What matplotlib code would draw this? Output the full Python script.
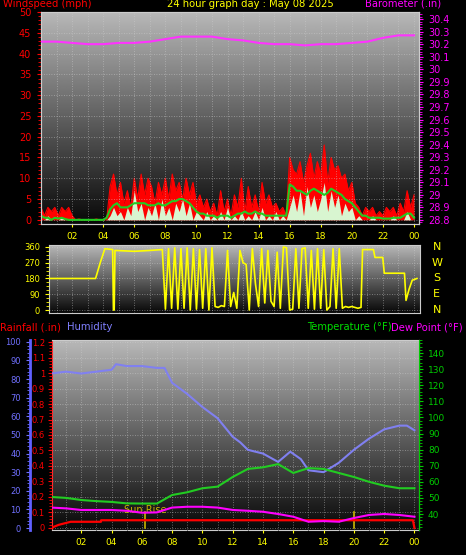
import numpy as np
import matplotlib
matplotlib.use("Agg")
import matplotlib.pyplot as plt
from matplotlib.ticker import MultipleLocator

# ---------------- data ----------------
hours_lbl = ["02","04","06","08","10","12","14","16","18","20","22","00"]
hours_pos = [2,4,6,8,10,12,14,16,18,20,22,24]

# wind (quarter-hour samples, 0..24)
wind_gust = [3,1,3,2,3,1,3,2,3,1,0,0.2,0,0,0,0,0.2,0,0,0,
             8,11,6,9,4,7,3,10,5,11,6,10,8,4,9,6,10,5,11,7,9,5,10,6,9,4,6,3,
             5,2,4,1,7,2,5,1,6,3,10,2,8,3,6,2,9,4,6,3,4,2,3,1,
             15,12,11,14,9,13,16,10,14,11,18,9,15,12,13,10,11,7,9,4,
             3,1,3,2,3,1,2,1,3,2,3,1,4,2,7,3,6]
wind_avg  = [1,0.5,0.5,0,0.5,0.3,0.5,0.2,0,0,0,0,0,0,0,0,0,0,0,0.5,
             2.5,3.5,4,3,3,3,3.5,4,4,4,4,3.5,3.5,3.5,4,3.5,3.5,4,4.5,4.5,5,5,4.5,4,3,2,1.5,1.5,
             1,1,1,0.5,1,1,1,0.5,1,1.5,1.5,2,1.5,1.5,2,1.5,1.5,1,1,1,1,1,1,1,
             8.5,8,7,7,6.5,6,7,7.5,7,6.5,6,6.5,7.5,7,6.5,6,5,4.5,4,3,
             2,1,1,0.5,0.5,0.5,0.5,0.3,0.3,0.3,0.5,0.5,0.5,1,1.5,1.5,0.5]
wind_spd  = [0,0,1,0,0,0,0.5,0,0,0,0,0,0,0,0,0,0,0,0,0,
             1,3,1,2,0,3,1,7,2,4,0,3,1,4,0,5,1,3,0,4,2,5,1,4,0,2,1,0,
             2,0,1,0,2,0,3,0,1,0,2,0,1,0,2,0,3,0,1,0,2,0,1,0,
             3,6,2,7,1,8,3,6,2,5,9,2,7,3,6,1,4,2,3,0,
             1,0,0,0,1,0,0,0,0,0,1,0,0,0,2,0,0]
baro_t = [0,1,2,3,4,5,6,7,8,9,10,11,12,13,14,15,16,17,18,19,20,21,22,23,24]
baro_v = [30.22,30.22,30.21,30.20,30.20,30.21,30.21,30.22,30.24,30.26,30.26,30.26,30.24,30.23,30.21,30.20,30.20,30.19,30.20,30.20,30.21,30.22,30.25,30.27,30.27]

# wind direction
dir_t = [0,3.5,3.8,4.1,4.6,4.65,4.7,4.75,6,7,7.8]
dir_v = [180,180,270,350,345,0,0,340,335,340,345]
dir_v2 = [5,350,10,355,5,350,10,355,0,350,5,345,10,350,0,355,20,15,25,20,340,20,100,10,340,270,260,0,350,150,20,350,40,340,50,20,330,10,360,355,0,5,350,10,350,355,10,340,5,350,10,345,0,20,350,10,350,10,20,15,20,15,10]
dir_t2 = [8.0 + 0.2 * i for i in range(len(dir_v2))]
dir_t3 = [20.6,20.7,21.4,21.5,22.0,22.1,23.4,23.5,23.7,23.9,24.2]
dir_v3 = [15,345,345,300,300,210,210,55,120,170,180]

# bottom panel
hum_t = [0,1,2,3,4,4.3,5,6,7,7.5,8,9,10,11,12,12.5,13,14,15,15.8,16.5,17,18,19,20,21,22,23,23.5,24]
hum_v = [83,84,83,84,85,88,87,87,86,86,78,72,65,59,49,46,42,40,35.5,41,37,31,30,35,42,48,53,55,55,52.5]
temp_t = [0,1,2,3,4,5,6,7,8,9,10,11,12,13,14,15,16,17,18,19,20,21,22,23,24]
temp_v = [50.6,50,48.7,48,47.5,46.6,46.5,46.5,51.8,53.5,56,57,63,68,69,71,65.5,68.5,68,65.5,63,60,57.6,56,56]
dew_t = [0,1,2,3,4,5,6,7,8,9,10,11,12,13,14,15,16,17,18,19,20,21,22,23,24]
dew_v = [44,43.5,42.5,42.5,42.5,42,40.8,41,44,44.5,44.5,44,42.5,42,41.4,40,38.3,35.2,35.6,35.2,37.5,39.4,40,39.4,38.3]
rain_t = [0,0.5,1.3,3.3,3.31,23.9,24.0]
rain_v = [0,0.02,0.04,0.04,0.05,0.05,0.0]

W, H = 466, 555
fig = plt.figure(figsize=(W/100, H/100), dpi=100, facecolor="black")

def ax_px(x0, y0, x1, y1):
    return fig.add_axes([x0/W, 1-y1/H, (x1-x0)/W, (y1-y0)/H])

def gradient(ax, xlim, ylim):
    g = np.linspace(0.72, 0.03, 256).reshape(-1, 1)
    ax.imshow(g, extent=[xlim[0], xlim[1], ylim[0], ylim[1]], aspect="auto",
              cmap="gray", vmin=0, vmax=1, zorder=0, interpolation="bilinear")
    ax.set_xlim(xlim); ax.set_ylim(ylim)

def style(ax):
    ax.set_facecolor("black")
    for s in ax.spines.values():
        s.set_color("#cccccc")
    ax.grid(True, color="#d0d0d0", linestyle=(0, (1, 2)), linewidth=0.6, alpha=0.6)
    ax.set_axisbelow(False)

FS = 7.2
# ---------------- top ----------------
ax1 = ax_px(41, 12, 419, 224)
xl1 = (0, 24.32); yl1 = (-1, 50)
gradient(ax1, xl1, yl1)
style(ax1)
t_w = np.linspace(0, 24, len(wind_gust))
ax1.fill_between(t_w, 0, wind_gust, color="#ff0000", zorder=2, linewidth=0)
ax1.plot(t_w, wind_gust, color="#ff0000", lw=0.8, zorder=2)
ax1.fill_between(t_w, 0, wind_spd, color="#d8f5d0", zorder=3, linewidth=0)
ax1.plot(t_w, wind_avg, color="#22cc22", lw=1.5, zorder=4)
ax1.set_xticks(hours_pos); ax1.set_xticklabels(hours_lbl)
ax1.xaxis.set_minor_locator(MultipleLocator(1))
ax1.set_yticks(range(0, 51, 5))
ax1.yaxis.set_minor_locator(MultipleLocator(1))
ax1.tick_params(axis="x", colors="#ffff00", labelsize=6.5, length=2)
ax1.tick_params(axis="y", colors="#ff0000", labelsize=7, length=3, pad=4)
ax1.tick_params(axis="y", which="minor", colors="#ff0000", length=2)
ax1.grid(True, which="minor", axis="x", color="#d0d0d0", linestyle=(0, (1, 2)), linewidth=0.6, alpha=0.6)
ax1b = ax1.twinx()
ax1b.set_ylim(28.768, 30.456)
ax1b.plot(baro_t, baro_v, color="#ff33ff", lw=1.5, zorder=5)
bt = np.round(np.arange(28.8, 30.41, 0.1), 1)
ax1b.set_yticks(bt)
ax1b.set_yticklabels([f"{v:g}" for v in bt])
ax1b.yaxis.set_minor_locator(MultipleLocator(0.02))
ax1b.tick_params(axis="y", colors="#ff00ff", labelsize=7, length=3)
ax1b.tick_params(axis="y", which="minor", colors="#ff00ff", length=2)
for s in ax1b.spines.values(): s.set_color("#cccccc")

fig.text(3/W, 1-4/H, "Windspeed (mph)", color="#ff0000", fontsize=FS, va="center")
fig.text(250/W, 1-4/H, "24 hour graph day : May 08 2025", color="#ffff00", fontsize=FS, va="center", ha="center")
fig.text(441/W, 1-4/H, "Barometer (.in)", color="#ff00ff", fontsize=FS, va="center", ha="right")

# ---------------- middle ----------------
ax2 = ax_px(49, 245, 420, 313)
xl2 = (0.5, 24.4); yl2 = (-17, 371)
gradient(ax2, xl2, yl2)
style(ax2)
ax2.plot(dir_t + dir_t2 + dir_t3, dir_v + dir_v2 + dir_v3, color="#ffff00", lw=1.2, zorder=3)
ax2.set_yticks([0, 90, 180, 270, 360])
ax2.yaxis.set_minor_locator(MultipleLocator(22.5))
ax2.set_xticks(range(1, 25)); ax2.set_xticklabels([])
ax2.tick_params(axis="x", length=0)
ax2.tick_params(axis="y", colors="#ffff00", labelsize=6, length=3)
ax2.tick_params(axis="y", which="minor", colors="#ffff00", length=2)
for lab, v in zip(["N", "W", "S", "E", "N"], [360, 270, 180, 90, 0]):
    ax2.text(1.045, (v - yl2[0]) / (yl2[1] - yl2[0]), lab, transform=ax2.transAxes,
             color="#ffff00", fontsize=8, ha="center", va="center")

# ---------------- bottom ----------------
ax3 = ax_px(52, 340, 419, 530)
xl3 = (0.07, 24.3); yl3 = (-0.013, 1.213)
gradient(ax3, xl3, yl3)
style(ax3)
ax3.set_xticks(hours_pos); ax3.set_xticklabels(hours_lbl)
ax3.xaxis.set_minor_locator(MultipleLocator(1))
ax3.grid(True, which="minor", axis="x", color="#d0d0d0", linestyle=(0, (1, 2)), linewidth=0.6, alpha=0.6)
ax3.tick_params(axis="x", colors="#ffff00", labelsize=6.5, length=2)
rt = np.round(np.arange(0, 1.21, 0.1), 1)
ax3.set_yticks(rt)
ax3.set_yticklabels([f"{v:g}" for v in rt])
ax3.yaxis.set_minor_locator(MultipleLocator(0.02))
ax3.tick_params(axis="y", colors="#ff0000", labelsize=6, length=3, pad=2)
ax3.tick_params(axis="y", which="minor", colors="#ff0000", length=2)
ax3.spines["left"].set_color("#ff3030")
ax3.plot([6.2, 6.2], [0, 0.1], color="#c8b400", lw=1.2, zorder=4)
ax3.plot([20.0, 20.0], [0, 0.1], color="#c8b400", lw=1.2, zorder=4)
ax3.text(6.2, 0.085, "Sun Rise", color="#c8b400", fontsize=7, ha="center", va="bottom", zorder=6)
ax3.plot(rain_t, rain_v, color="#ff0000", lw=1.6, zorder=5)

axh = ax3.twinx()
axh.yaxis.set_ticks_position("left"); axh.yaxis.set_label_position("left")
axh.spines["left"].set_position(("outward", 16))
axh.spines["left"].set_visible(True)
axh.spines["left"].set_color("#6060ff"); axh.spines["left"].set_linewidth(2)
axh.set_ylim(-1.07, 101)
axh.set_yticks(range(0, 101, 10))
axh.yaxis.set_minor_locator(MultipleLocator(2))
axh.tick_params(axis="y", colors="#7070ff", labelsize=6, length=3)
axh.tick_params(axis="y", which="minor", colors="#7070ff", length=2)
axh.plot(hum_t, hum_v, color="#8080f0", lw=1.5, zorder=4)
for s in ["right", "top", "bottom"]:
    axh.spines[s].set_visible(False)

axt = ax3.twinx()
axt.set_ylim(30.06, 148.1)
axt.set_yticks(range(40, 141, 10))
axt.yaxis.set_minor_locator(MultipleLocator(2))
axt.tick_params(axis="y", colors="#00cc00", labelsize=6.5, length=3)
axt.tick_params(axis="y", which="minor", colors="#00cc00", length=2)
axt.spines["right"].set_color("#00cc00")
axt.plot(temp_t, temp_v, color="#22cc22", lw=1.5, zorder=4)
axt.plot(dew_t, dew_v, color="#ff00ff", lw=1.5, zorder=4)
for s in ["left", "top", "bottom"]:
    axt.spines[s].set_visible(False)

fig.text(0/W, 1-327/H, "Rainfall (.in)", color="#ff0000", fontsize=FS, va="center")
fig.text(67/W, 1-327/H, "Humidity", color="#8080ff", fontsize=FS, va="center")
fig.text(392/W, 1-327/H, "Temperature (°F)", color="#00dd00", fontsize=FS, va="center", ha="right")
fig.text(463/W, 1-327/H, "Dew Point (°F)", color="#ff00ff", fontsize=FS, va="center", ha="right")

fig.savefig("out.png", dpi=100, facecolor="black")
